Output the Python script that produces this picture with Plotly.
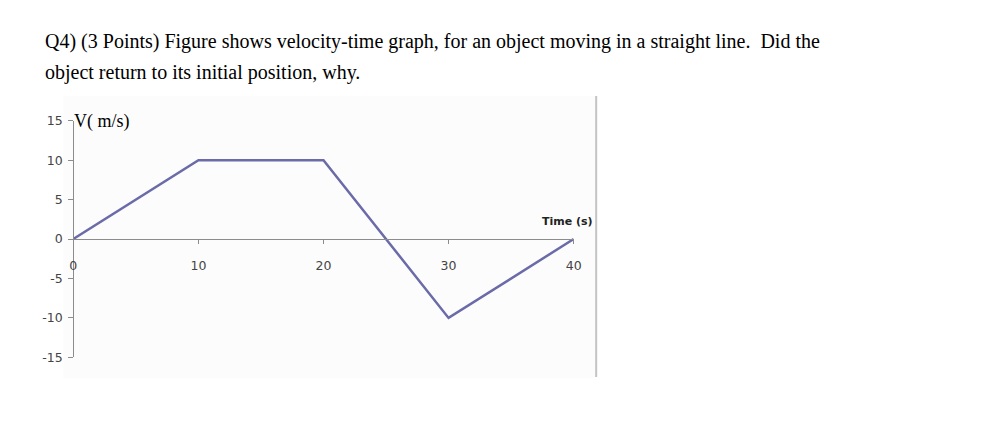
import plotly.graph_objects as go

# Data
time_s = [0, 10, 20, 30, 40]
velocity = [0, 10, 10, -10, 0]
x_ticks = [0, 10, 20, 30, 40]
x_ticktext = ["0", "10", "20", "30", "40"]
y_ticks = [-15, -10, -5, 0, 5, 10, 15]
y_ticktext = ["-15", "-10", "-5", "0", "5", "10", "15"]

W, H = 981, 440
x0_px, x1_px = 70.2, 576.7
ytop_px, ybot_px = 116.7, 361.7

fig = go.Figure()
fig.add_trace(go.Scatter(x=time_s, y=velocity, mode="lines",
                         line=dict(color="#6b6ba9", width=2.5),
                         hoverinfo="skip", showlegend=False, cliponaxis=False))

ydom = [(H - ybot_px) / H, (H - ytop_px) / H]
tick_font = dict(family="DejaVu Sans", size=12.5, color="#444444")
fig.update_layout(
    width=W, height=H,
    margin=dict(l=0, r=0, t=0, b=0),
    paper_bgcolor="white", plot_bgcolor="rgba(0,0,0,0)",
    showlegend=False,
    xaxis=dict(domain=[x0_px / W, x1_px / W], range=[0, 40],
               anchor="free", position=(ydom[0] + ydom[1]) / 2,
               showline=True, linecolor="#8c8c8c", linewidth=1.3,
               showgrid=False, zeroline=False,
               ticks="outside", ticklen=4, tickcolor="#8c8c8c",
               tickvals=x_ticks, ticktext=x_ticktext,
               ticklabelstandoff=11, tickfont=tick_font),
    yaxis=dict(domain=ydom, range=[-15, 15],
               anchor="free", position=x0_px / W,
               showline=True, linecolor="#8c8c8c", linewidth=1.3,
               showgrid=False, zeroline=False,
               ticks="outside", ticklen=5, tickcolor="#8c8c8c",
               tickvals=y_ticks, ticktext=y_ticktext,
               ticklabelstandoff=3, tickfont=tick_font),
    shapes=[
        dict(type="rect", xref="paper", yref="paper",
             x0=60 / W, x1=599 / W, y0=(H - 383) / H, y1=(H - 91) / H,
             fillcolor="#fcfcfc", line=dict(width=0), layer="below"),
        dict(type="line", xref="paper", yref="paper",
             x0=599.5 / W, x1=599.5 / W, y0=(H - 382) / H, y1=(H - 91) / H,
             line=dict(color="#c4c4c4", width=2)),
    ],
    annotations=[
        dict(text="Q4) (3 Points) Figure shows velocity-time graph, for an object moving in a straight line.&nbsp;&nbsp;Did the",
             xref="paper", yref="paper", x=39 / W, y=(H - 35) / H,
             xanchor="left", yanchor="middle", showarrow=False,
             font=dict(family="Liberation Serif", size=20, color="black")),
        dict(text="object return to its initial position, why.",
             xref="paper", yref="paper", x=39 / W, y=(H - 67) / H,
             xanchor="left", yanchor="middle", showarrow=False,
             font=dict(family="Liberation Serif", size=20, color="black")),
        dict(text="V( m/s)", xref="paper", yref="paper",
             x=69 / W, y=(H - 118) / H, xanchor="left", yanchor="middle",
             showarrow=False,
             font=dict(family="Liberation Serif", size=18, color="black")),
        dict(text="<b>Time (s)</b>", xref="paper", yref="paper",
             x=598 / W, y=(H - 221) / H, xanchor="right", yanchor="middle",
             showarrow=False,
             font=dict(family="DejaVu Sans", size=11, color="#222222")),
    ],
)

fig.write_html("out.html")
